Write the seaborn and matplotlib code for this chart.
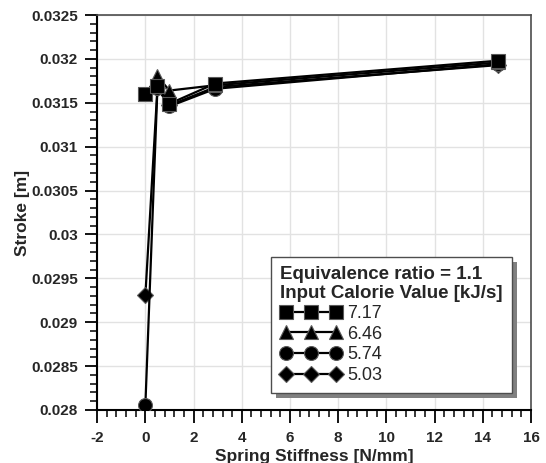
import matplotlib
matplotlib.use("Agg")
import matplotlib.pyplot as plt
import seaborn as sns
import pandas as pd
from matplotlib.ticker import MultipleLocator, FuncFormatter
from matplotlib.patches import Rectangle

# datos
stiffness = [0, 0.5, 1, 2.9, 14.65]
stroke_717 = [0.03160, 0.03169, 0.03149, 0.03172, 0.03198]
stroke_646 = [0.03160, 0.03180, 0.03164, 0.03170, 0.03196]
stroke_574 = [0.02806, 0.03167, 0.03146, 0.03166, 0.03194]
stroke_503 = [0.02931, 0.03167, 0.03147, 0.03168, 0.03193]
calorie_labels = ["7.17", "6.46", "5.74", "5.03"]
markers = ["s", "^", "o", "D"]
marker_sizes = [10, 10, 10, 8]

series = [stroke_717, stroke_646, stroke_574, stroke_503]

sns.set_style("white")
plt.rcParams["font.family"] = ["Liberation Sans", "DejaVu Sans"]
plt.rcParams["font.weight"] = "bold"

fig = plt.figure(figsize=(5.46, 4.63), dpi=100)
ax = fig.add_axes([0.178, 0.1145, 0.7945, 0.853])

handles = {}
# se dibuja al reves para que los cuadrados queden encima
for vals, lab, mk, ms in reversed(list(zip(series, calorie_labels, markers, marker_sizes))):
    df = pd.DataFrame({"x": stiffness, "y": vals})
    sns.lineplot(data=df, x="x", y="y", ax=ax, color="black", lw=1.6,
                 marker=mk, markersize=ms, markeredgecolor="0.35",
                 markeredgewidth=0.8, sort=False, label=lab, zorder=3)
    handles[lab] = ax.get_lines()[-1]

ax.set_xlim(-2, 16)
ax.set_ylim(0.028, 0.0325)
ax.xaxis.set_major_locator(MultipleLocator(2))
ax.xaxis.set_minor_locator(MultipleLocator(0.4))
ax.yaxis.set_major_locator(MultipleLocator(0.0005))
ax.yaxis.set_minor_locator(MultipleLocator(0.0001))
ax.yaxis.set_major_formatter(FuncFormatter(lambda v, p: "{:g}".format(round(v, 5))))
ax.xaxis.set_major_formatter(FuncFormatter(lambda v, p: "{:g}".format(v)))

ax.grid(True, which="major", color="#e2e2e2", lw=1.0, zorder=0)
ax.set_axisbelow(True)
ax.tick_params(which="major", direction="out", length=9, width=1.3,
               color="black", labelsize=11, left=True, bottom=True)
ax.tick_params(axis="y", which="major", pad=5)
ax.tick_params(axis="x", which="major", pad=6)
ax.tick_params(which="minor", direction="out", length=5, width=1.1,
               color="black", left=True, bottom=True)
for t in ax.get_xticklabels() + ax.get_yticklabels():
    t.set_fontweight("bold")

for side in ["left", "bottom"]:
    ax.spines[side].set_color("black")
    ax.spines[side].set_linewidth(1.5)
for side in ["top", "right"]:
    ax.spines[side].set_color("0.3")
    ax.spines[side].set_linewidth(1.2)

ax.set_xlabel("Spring Stiffness [N/mm]", fontsize=12.5, fontweight="bold", labelpad=3)
ax.set_ylabel("Stroke [m]", fontsize=12.5, fontweight="bold", labelpad=1)

leg = ax.legend([handles[l] for l in calorie_labels], calorie_labels,
                title="Equivalence ratio = 1.1\nInput Calorie Value [kJ/s]",
                loc="lower right", bbox_to_anchor=(0.956, 0.043),
                borderaxespad=0,
                numpoints=3, handlelength=3.4, handletextpad=0.3,
                labelspacing=0.2, fontsize=13, title_fontsize=13.5,
                frameon=True, fancybox=False, framealpha=1,
                edgecolor="0.3", borderpad=0.5)
leg.get_title().set_fontweight("bold")
leg.get_title().set_linespacing(1.1)
leg._legend_box.align = "left"
leg.get_frame().set_linewidth(1.0)
for t in leg.get_texts():
    t.set_fontweight("normal")
leg.set_zorder(10)

# sombra gris del cuadro de leyenda
fig.canvas.draw()
bb = leg.get_window_extent()
shadow = Rectangle((bb.x0 + 5, bb.y0 - 5), bb.width, bb.height,
                   transform=None, facecolor="0.5", edgecolor="none", zorder=9)
ax.add_artist(shadow)

fig.savefig("out.png", dpi=100)
